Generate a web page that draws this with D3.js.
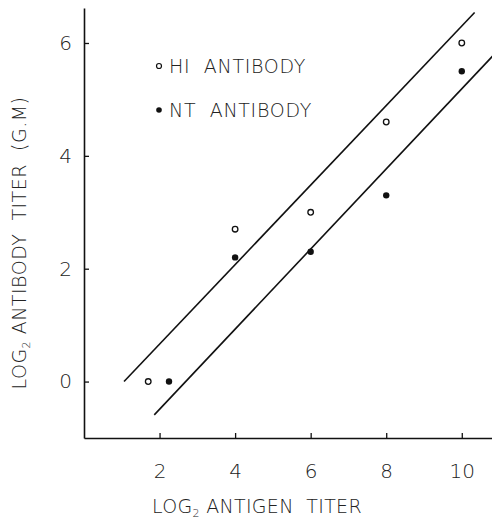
<!DOCTYPE html>
<html>
<head>
<meta charset="utf-8">
<script src="https://cdn.jsdelivr.net/npm/d3@7"></script>
<style>
  body { margin: 0; background: #fff; }
  text { font-family: "DejaVu Sans", sans-serif; font-weight: 200; fill: #222; }
</style>
</head>
<body>
<div id="chart"></div>
<script>
// HI antibody (open circles)
var hi_x = [1.7, 4, 6, 8, 10];
var hi_y = [0, 2.7, 3.0, 4.6, 6.0];
// NT antibody (filled circles)
var nt_x = [2.25, 4, 6, 8, 10];
var nt_y = [0, 2.2, 2.3, 3.3, 5.5];
// fitted lines, end points
var upper_x = [1.06, 10.34];
var upper_y = [0, 6.54];
var lower_x = [1.86, 10.82];
var lower_y = [-0.59, 5.77];
// ticks
var x_ticks = [2, 4, 6, 8, 10];
var y_ticks = [0, 2, 4, 6];

var chart_width = 492;
var chart_height = 519;
var svg = d3.select('#chart')
  .append('svg')
  .attr('width', chart_width)
  .attr('height', chart_height);

// Create scales
var xScale = d3.scaleLinear()
  .domain([0, 10.8])
  .range([84, 492]);

var yScale = d3.scaleLinear()
  .domain([-1, 6.62])
  .range([438, 8]);

// Axes
var yAxis = d3.axisLeft(yScale)
  .tickValues(y_ticks)
  .tickSizeInner(-5)
  .tickSizeOuter(0)
  .tickPadding(12);

var xAxis = d3.axisBottom(xScale)
  .tickValues(x_ticks)
  .tickSizeInner(-5)
  .tickSizeOuter(0)
  .tickPadding(40);

var gy = svg.append('g')
  .attr('transform', 'translate(' + xScale(0) + ',0)')
  .call(yAxis);

var gx = svg.append('g')
  .attr('transform', 'translate(0,' + yScale(-1) + ')')
  .call(xAxis);

[gx, gy].forEach(function (g) {
  g.select('.domain').attr('stroke', '#111').attr('stroke-width', 1.6);
  g.selectAll('.tick line').attr('stroke', '#111').attr('stroke-width', 1.3);
  g.selectAll('.tick text')
    .attr('font-size', 20)
    .attr('font-family', '"DejaVu Sans", sans-serif')
    .attr('fill', '#222');
});
gx.selectAll('.tick text').attr('dy', 0);

// Fitted lines
var line = d3.line()
  .x(function (d) { return xScale(d[0]); })
  .y(function (d) { return yScale(d[1]); });

[[upper_x, upper_y], [lower_x, lower_y]].forEach(function (l) {
  svg.append('path')
    .datum(d3.zip(l[0], l[1]))
    .attr('d', line)
    .attr('fill', 'none')
    .attr('stroke', '#111')
    .attr('stroke-width', 1.6);
});

// Points
svg.selectAll('circle.hi')
  .data(d3.zip(hi_x, hi_y))
  .enter()
  .append('circle')
  .attr('class', 'hi')
  .attr('cx', function (d) { return xScale(d[0]); })
  .attr('cy', function (d) { return yScale(d[1]); })
  .attr('r', 2.8)
  .attr('fill', '#fff')
  .attr('stroke', '#111')
  .attr('stroke-width', 1.3);

svg.selectAll('circle.nt')
  .data(d3.zip(nt_x, nt_y))
  .enter()
  .append('circle')
  .attr('class', 'nt')
  .attr('cx', function (d) { return xScale(d[0]); })
  .attr('cy', function (d) { return yScale(d[1]); })
  .attr('r', 3.2)
  .attr('fill', '#111');

// Legend
var legend = svg.append('g');
legend.append('circle')
  .attr('cx', 159).attr('cy', 66).attr('r', 2.5)
  .attr('fill', '#fff').attr('stroke', '#111').attr('stroke-width', 1.2);
legend.append('text')
  .attr('x', 169).attr('y', 73)
  .attr('font-size', 19)
  .attr('letter-spacing', 0.7)
  .attr('xml:space', 'preserve')
  .text('HI  ANTIBODY');
legend.append('circle')
  .attr('cx', 159).attr('cy', 110).attr('r', 2.8)
  .attr('fill', '#111');
legend.append('text')
  .attr('x', 169).attr('y', 117)
  .attr('font-size', 19)
  .attr('letter-spacing', 0.7)
  .attr('xml:space', 'preserve')
  .text('NT  ANTIBODY');

// Axis titles
var xt = svg.append('text')
  .attr('x', 257)
  .attr('y', 513)
  .attr('text-anchor', 'middle')
  .attr('font-size', 19)
  .attr('letter-spacing', 0.3)
  .attr('xml:space', 'preserve');
xt.append('tspan').text('LOG');
xt.append('tspan').attr('font-size', 11).attr('dy', 4).text('2');
xt.append('tspan').attr('dy', -4).text(' ANTIGEN  TITER');

var yt = svg.append('text')
  .attr('transform', 'translate(26,243) rotate(-90)')
  .attr('text-anchor', 'middle')
  .attr('font-size', 19)
  .attr('letter-spacing', 0.5)
  .attr('xml:space', 'preserve');
yt.append('tspan').text('LOG');
yt.append('tspan').attr('font-size', 11).attr('dy', 4).text('2');
yt.append('tspan').attr('dy', -4).text(' ANTIBODY  TITER  (G.M)');
</script>
</body>
</html>
